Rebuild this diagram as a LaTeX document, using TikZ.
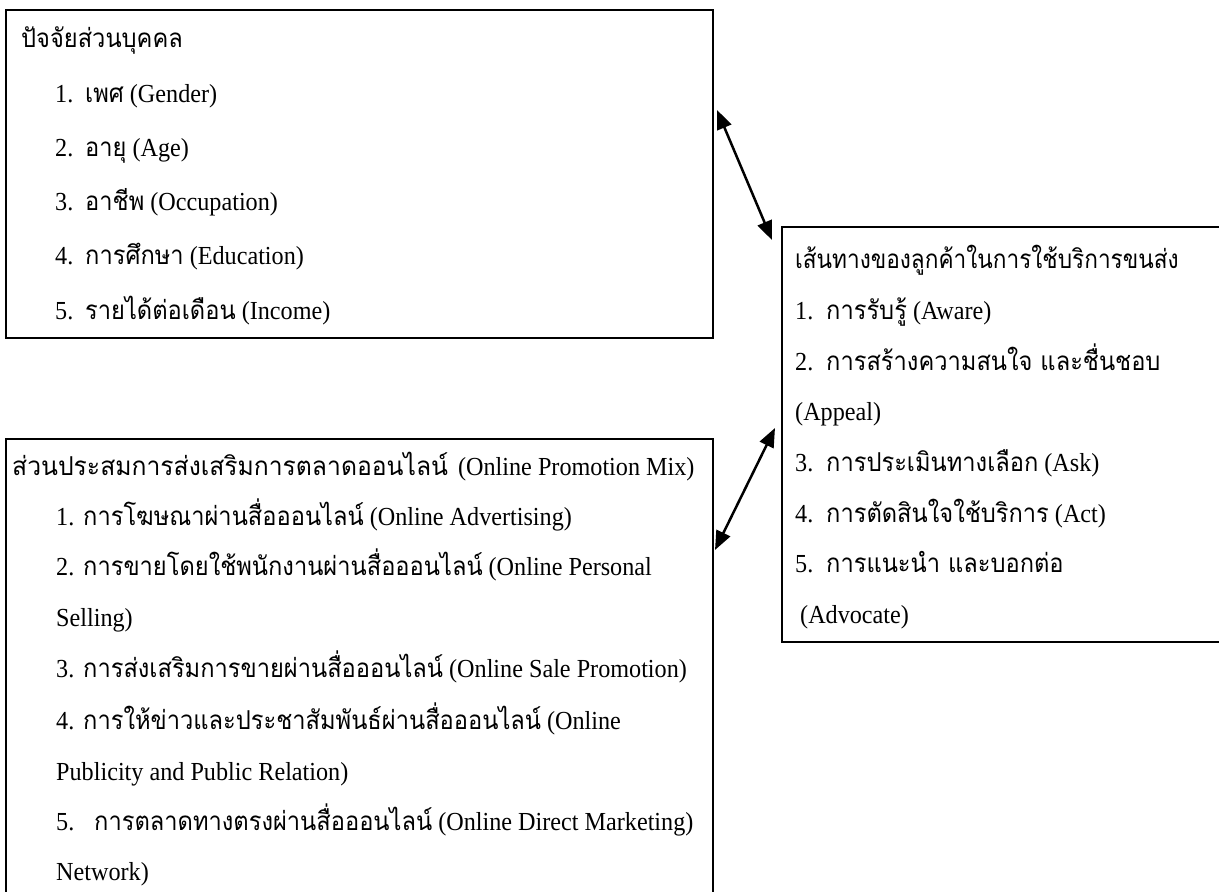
\documentclass[tikz,border=0pt]{standalone}
\usepackage{fontspec}
\setmainfont{Liberation Serif}[FakeStretch=0.93]
\newfontfamily\thaifont{Loma}[Script=Thai,FakeStretch=0.91]
\newfontfamily\thaicond{Loma}[Script=Thai,FakeStretch=0.87]
\newfontfamily\thaiwide{Loma}[Script=Thai,FakeStretch=0.95]
\usetikzlibrary{arrows.meta}
\newcommand\tha[1]{{\thaifont #1}}
\newcommand\thc[1]{{\thaicond #1}}
\newcommand\thw[1]{{\thaiwide #1}}
\tikzset{
  box/.style={draw, line width=2pt, anchor=north west, inner sep=0pt},
  txt/.style={anchor=base west, inner sep=0pt, font=\fontsize{26}{30}\selectfont},
  link/.style={line width=2.5pt, {Triangle[length=19pt,width=15pt]}-{Triangle[length=19pt,width=15pt]}}
}
\begin{document}
\begin{tikzpicture}[x=1pt,y=-1pt]
\useasboundingbox (0,0) rectangle (1219,892);
\clip (0,0) rectangle (1219,892);
% boxes
\node[box, minimum width=707pt, minimum height=328pt] (b1) at (4.5,9) {};
\node[box, minimum width=450pt, minimum height=415pt] (b2) at (781,226) {};
\node[box, minimum width=707.5pt, minimum height=470pt] (b3) at (4.5,438) {};
% box 1
\node[txt] (t10) at (21,47) {\tha{ปัจจัยส่วนบุคคล}};
\node[txt] (n11) at (55,102) {1.};
\node[txt] (t11) at (85,102) {\tha{เพศ} (Gender)};
\node[txt] (n12) at (55,156) {2.};
\node[txt] (t12) at (85,156) {\tha{อายุ} (Age)};
\node[txt] (n13) at (55,210) {3.};
\node[txt] (t13) at (85,210) {\tha{อาชีพ} (Occupation)};
\node[txt] (n14) at (55,264) {4.};
\node[txt] (t14) at (85,264) {\tha{การศึกษา} (Education)};
\node[txt] (n15) at (55,319) {5.};
\node[txt] (t15) at (85,319) {\tha{รายได้ต่อเดือน} (Income)};
% box 2
\node[txt] (t20) at (795,268) {\thc{เส้นทางของลูกค้าในการใช้บริการขนส่ง}};
\node[txt] (n21) at (795,319) {1.};
\node[txt] (t21) at (826,319) {\tha{การรับรู้} (Aware)};
\node[txt] (n22) at (795,370) {2.};
\node[txt] (t22) at (826,370) {\tha{การสร้างความสนใจ และชื่นชอบ}};
\node[txt] (t22b) at (795,420) {(Appeal)};
\node[txt] (n23) at (795,471) {3.};
\node[txt] (t23) at (826,471) {\tha{การประเมินทางเลือก} (Ask)};
\node[txt] (n24) at (795,522) {4.};
\node[txt] (t24) at (826,522) {\tha{การตัดสินใจใช้บริการ} (Act)};
\node[txt] (n25) at (795,572) {5.};
\node[txt] (t25) at (826,572) {\tha{การแนะนำ และบอกต่อ}};
\node[txt] (t25b) at (800,623) {(Advocate)};
% box 3
\node[txt] (t30) at (12,475) {\thw{ส่วนประสมการส่งเสริมการตลาดออนไลน์}\hspace{4pt} (Online Promotion Mix)};
\node[txt] (n31) at (56,525) {1.};
\node[txt] (t31) at (83,525) {\tha{การโฆษณาผ่านสื่อออนไลน์} (Online Advertising)};
\node[txt] (n32) at (56,575) {2.};
\node[txt] (t32) at (83,575) {\tha{การขายโดยใช้พนักงานผ่านสื่อออนไลน์} (Online Personal};
\node[txt] (t32b) at (56,626) {Selling)};
\node[txt] (n33) at (56,677) {3.};
\node[txt] (t33) at (83,677) {\tha{การส่งเสริมการขายผ่านสื่อออนไลน์} (Online Sale Promotion)};
\node[txt] (n34) at (56,729) {4.};
\node[txt] (t34) at (83,729) {\tha{การให้ข่าวและประชาสัมพันธ์ผ่านสื่อออนไลน์} (Online};
\node[txt] (t34b) at (56,780) {Publicity and Public Relation)};
\node[txt] (n35) at (56,830) {5.};
\node[txt] (t35) at (94,830) {\tha{การตลาดทางตรงผ่านสื่อออนไลน์} (Online Direct Marketing)};
\node[txt] (t35b) at (56,880) {Network)};
% connectors
\coordinate (a1) at (717,110);
\coordinate (a2) at (772,240);
\coordinate (c1) at (775,428);
\coordinate (c2) at (715,550);
\draw[link] (a1) -- (a2);
\draw[link] (c1) -- (c2);
\end{tikzpicture}
\end{document}
